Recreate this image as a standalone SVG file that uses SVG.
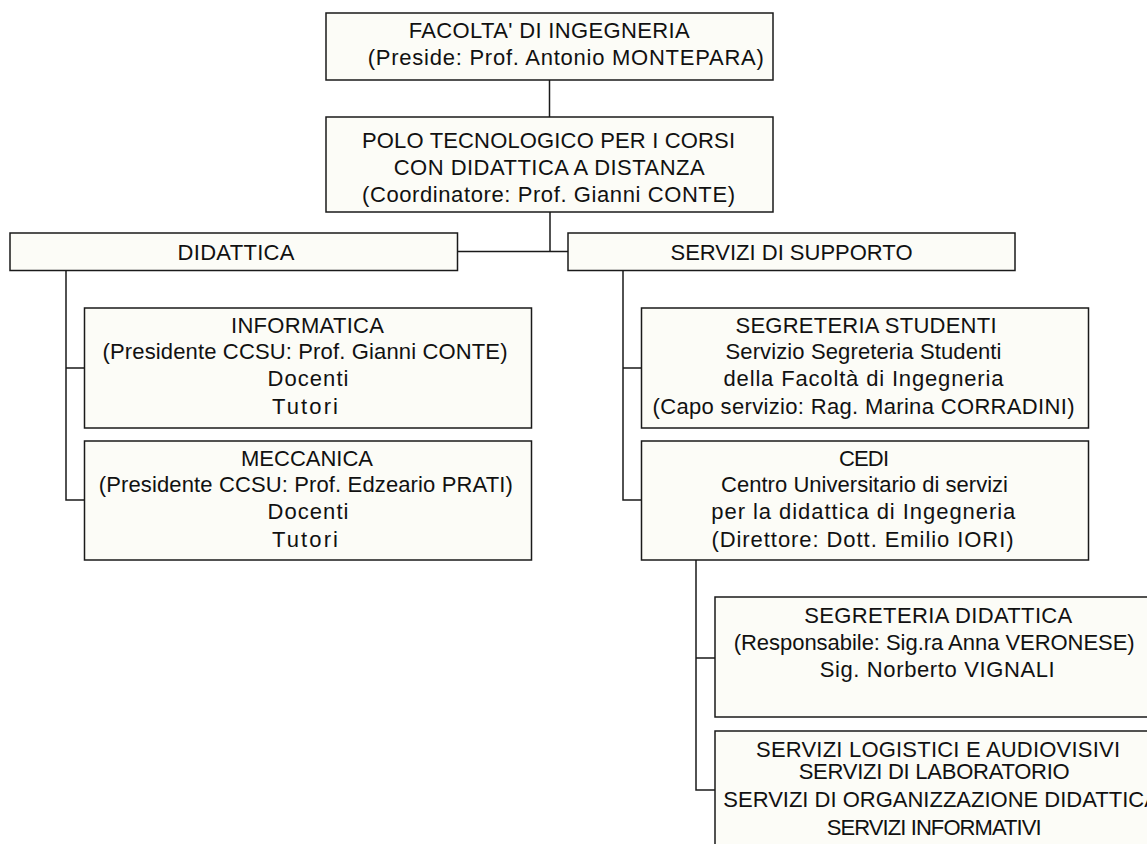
<svg xmlns="http://www.w3.org/2000/svg" width="1147" height="844" viewBox="0 0 1147 844">
<style>
.box{fill:#fcfcf7;stroke:#1a1a1a;stroke-width:1.5}
.t{font-family:"Liberation Sans",Arial,Helvetica,sans-serif;font-size:22px;fill:#111;text-anchor:middle}
.c{fill:none;stroke:#1a1a1a;stroke-width:1.5}
</style>
<rect width="1147" height="844" fill="#ffffff"/>
<g id="connectors">
<path class="c" d="M549.5,80 V117"/>
<path class="c" d="M550,212 V251.5 M457.5,251.5 H568"/>
<path class="c" d="M66,270 V500 H84.5 M66,368 H84.5"/>
<path class="c" d="M623,270 V500 H641.5 M623,368 H641.5"/>
<path class="c" d="M696,560 V790 H715 M696,658 H715"/>
</g>
<g id="facolta">
<rect class="box" x="326" y="13" width="447" height="67"/>
<text class="t" x="549.2" y="37.5" textLength="281" lengthAdjust="spacing">FACOLTA' DI INGEGNERIA</text>
<text class="t" x="565.8" y="64.5" textLength="396" lengthAdjust="spacing">(Preside: Prof. Antonio MONTEPARA)</text>
</g>
<g id="polo">
<rect class="box" x="326" y="117" width="447" height="95"/>
<text class="t" x="548.5" y="148" textLength="373" lengthAdjust="spacing">POLO TECNOLOGICO PER I CORSI</text>
<text class="t" x="549.2" y="175" textLength="311" lengthAdjust="spacing">CON DIDATTICA A DISTANZA</text>
<text class="t" x="548.5" y="201.5" textLength="373" lengthAdjust="spacing">(Coordinatore: Prof. Gianni CONTE)</text>
</g>
<g id="didattica">
<rect class="box" x="10" y="233" width="447.5" height="37.5"/>
<text class="t" x="236" y="259.5" textLength="117" lengthAdjust="spacing">DIDATTICA</text>
</g>
<g id="servizi-supporto">
<rect class="box" x="568" y="233" width="447" height="37.5"/>
<text class="t" x="791.5" y="259.5">SERVIZI DI SUPPORTO</text>
</g>
<g id="informatica">
<rect class="box" x="84.5" y="308" width="447" height="120"/>
<text class="t" x="307.5" y="332.5" textLength="153" lengthAdjust="spacing">INFORMATICA</text>
<text class="t" x="305" y="358.5" textLength="405" lengthAdjust="spacing">(Presidente CCSU: Prof. Gianni CONTE)</text>
<text class="t" x="308" y="386" textLength="81" lengthAdjust="spacing">Docenti</text>
<text class="t" x="305" y="413.5" textLength="66" lengthAdjust="spacing">Tutori</text>
</g>
<g id="meccanica">
<rect class="box" x="84.5" y="441" width="447" height="119"/>
<text class="t" x="307" y="465.5" textLength="132" lengthAdjust="spacing">MECCANICA</text>
<text class="t" x="305.8" y="491.5" textLength="414" lengthAdjust="spacing">(Presidente CCSU: Prof. Edzeario PRATI)</text>
<text class="t" x="308" y="518.5" textLength="81" lengthAdjust="spacing">Docenti</text>
<text class="t" x="305" y="546.5" textLength="66" lengthAdjust="spacing">Tutori</text>
</g>
<g id="segreteria-studenti">
<rect class="box" x="641.5" y="308" width="447" height="120"/>
<text class="t" x="866" y="332.5" textLength="261" lengthAdjust="spacing">SEGRETERIA STUDENTI</text>
<text class="t" x="863.5" y="358.5" textLength="276" lengthAdjust="spacing">Servizio Segreteria Studenti</text>
<text class="t" x="863.5" y="386" textLength="280" lengthAdjust="spacing">della Facoltà di Ingegneria</text>
<text class="t" x="863.5" y="413.5" textLength="422" lengthAdjust="spacing">(Capo servizio: Rag. Marina CORRADINI)</text>
</g>
<g id="cedi">
<rect class="box" x="641.5" y="441" width="447" height="119"/>
<text class="t" x="864" y="465.5" textLength="50" lengthAdjust="spacing">CEDI</text>
<text class="t" x="864.5" y="491.5" textLength="287" lengthAdjust="spacing">Centro Universitario di servizi</text>
<text class="t" x="863.3" y="518.5" textLength="304" lengthAdjust="spacing">per la didattica di Ingegneria</text>
<text class="t" x="862.5" y="546.5" textLength="302" lengthAdjust="spacing">(Direttore: Dott. Emilio IORI)</text>
</g>
<g id="segreteria-didattica">
<rect class="box" x="715" y="597" width="447" height="120"/>
<text class="t" x="938.3" y="623" textLength="268" lengthAdjust="spacing">SEGRETERIA DIDATTICA</text>
<text class="t" x="934.2" y="649.5" textLength="401" lengthAdjust="spacing">(Responsabile: Sig.ra Anna VERONESE)</text>
<text class="t" x="937.2" y="677" textLength="235" lengthAdjust="spacing">Sig. Norberto VIGNALI</text>
</g>
<g id="servizi-logistici">
<rect class="box" x="715" y="731" width="447" height="130"/>
<text class="t" x="938" y="756.5" textLength="364" lengthAdjust="spacing">SERVIZI LOGISTICI E AUDIOVISIVI</text>
<text class="t" x="934.2" y="778.5" textLength="271" lengthAdjust="spacing">SERVIZI DI LABORATORIO</text>
<text class="t" x="723.3" y="806.5" style="text-anchor:start">SERVIZI DI ORGANIZZAZIONE DIDATTICA</text>
<text class="t" x="934.2" y="835" textLength="215" lengthAdjust="spacing">SERVIZI INFORMATIVI</text>
</g>
</svg>
